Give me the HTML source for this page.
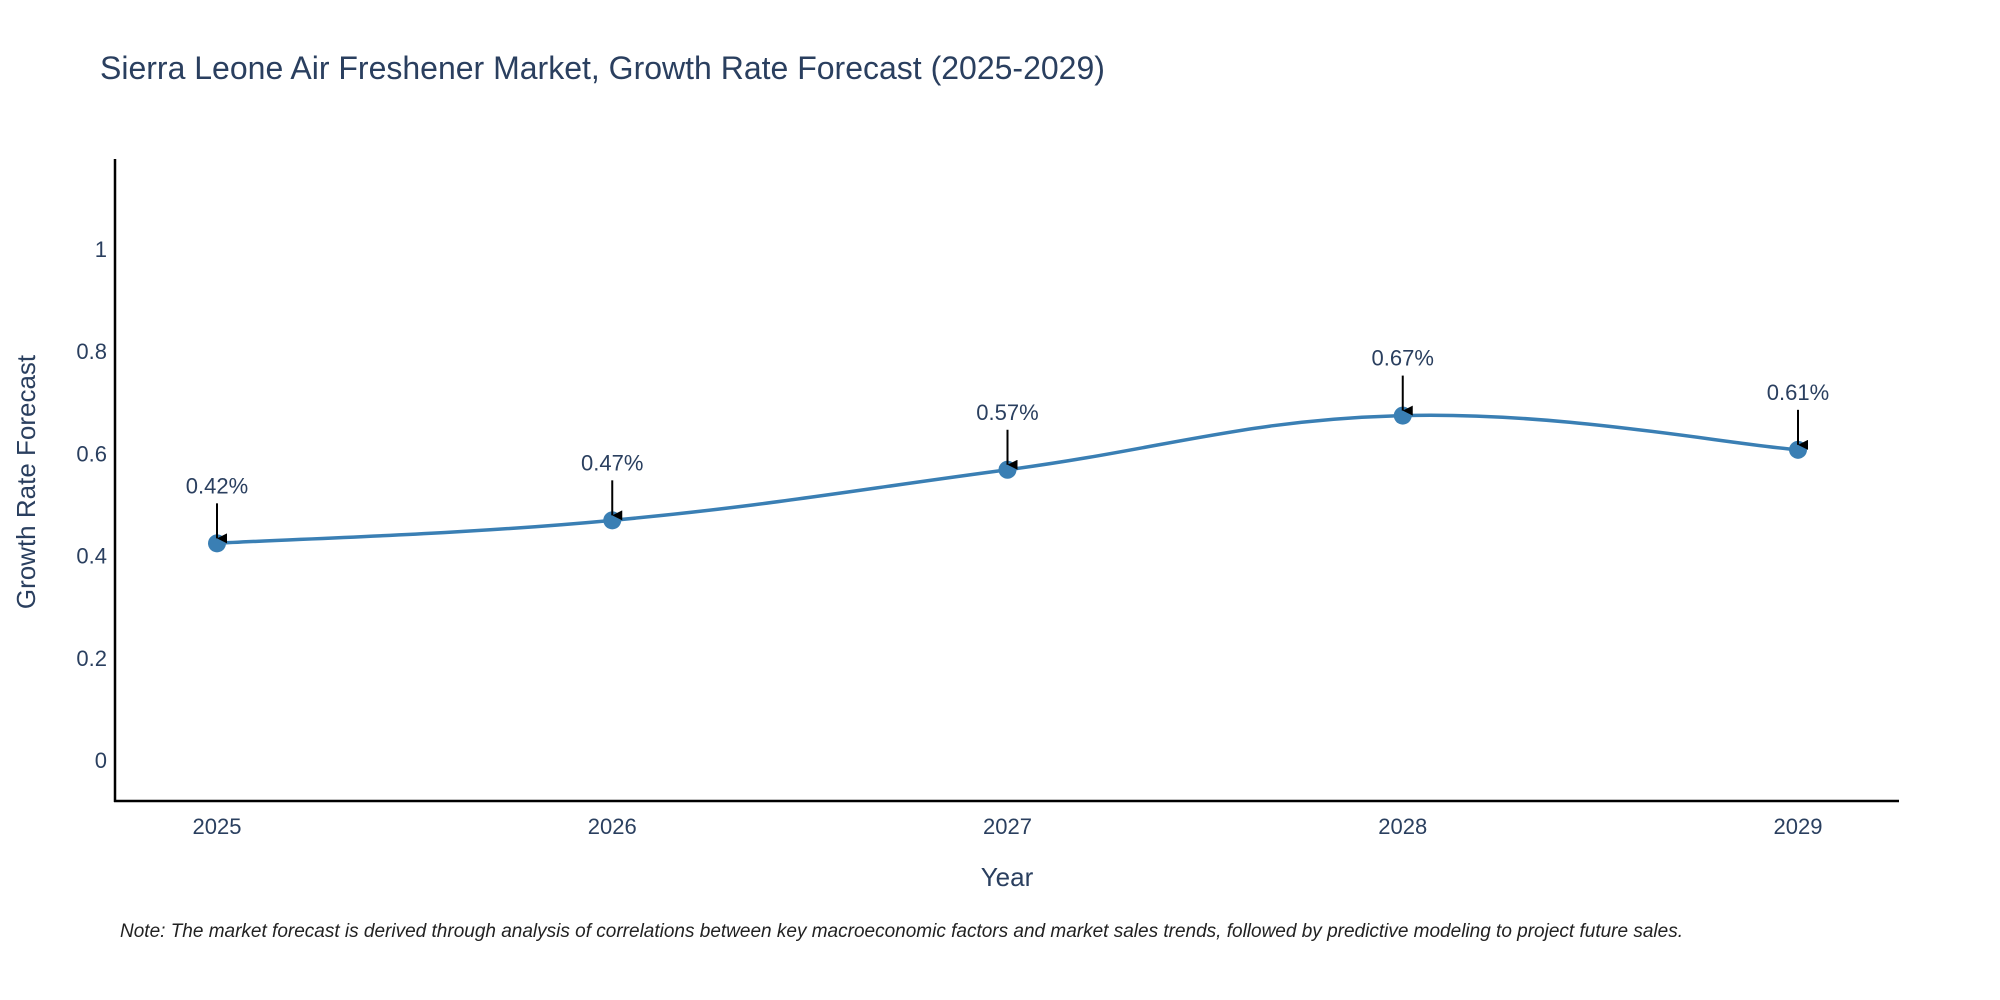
<!DOCTYPE html>
<html><head><meta charset="utf-8"><style>
body{margin:0;background:#fff;}
svg{display:block;font-family:"Liberation Sans",sans-serif;}
</style></head><body>
<svg id="chart" width="2000" height="1000" viewBox="0 0 2000 1000">
<text x="100" y="79" font-size="32" fill="#2a3f5f">Sierra Leone Air Freshener Market, Growth Rate Forecast (2025-2029)</text>
<g id="yticks"></g>
<g id="xticks"></g>
<line x1="115" y1="159" x2="115" y2="802" stroke="#000" stroke-width="2.5"/>
<line x1="114" y1="801" x2="1899" y2="801" stroke="#000" stroke-width="2.5"/>
<path id="line" fill="none" stroke="#3a7fb4" stroke-width="3.5"/>
<g id="points"></g>
<g id="annos"></g>
<text x="1007" y="886" font-size="26" fill="#2a3f5f" text-anchor="middle">Year</text>
<text x="0" y="0" transform="translate(35,482) rotate(-90)" font-size="26" fill="#2a3f5f" text-anchor="middle">Growth Rate Forecast</text>
<text x="120" y="937" font-size="19" font-style="italic" fill="#222">Note: The market forecast is derived through analysis of correlations between key macroeconomic factors and market sales trends, followed by predictive modeling to project future sales.</text>
<defs><marker id="arr" viewBox="0 0 10 10" refX="5" refY="10" markerWidth="5" markerHeight="5" orient="auto-start-reverse"><path d="M0,0 L10,0 L5,10 Z" fill="#000"/></marker></defs>
</svg>
<script>
const years=[2025,2026,2027,2028,2029];
const values=[0.424,0.469,0.568,0.674,0.607];
const labels=["0.42%","0.47%","0.57%","0.67%","0.61%"];
const yTicks=[0,0.2,0.4,0.6,0.8,1];
const ns="http://www.w3.org/2000/svg";
function xs(v){return 217+(v-2025)*(1798-217)/4;}
function ys(v){return 760-v*511;}
function mk(t,a,p){const e=document.createElementNS(ns,t);for(const k in a)e.setAttribute(k,a[k]);p.appendChild(e);return e;}
const yt=document.getElementById('yticks');
yTicks.forEach(v=>{const t=mk('text',{x:107,y:ys(v)+8,'font-size':22,fill:'#2a3f5f','text-anchor':'end'},yt);


t.textContent=String(v);});
const xt=document.getElementById('xticks');
years.forEach(v=>{const t=mk('text',{x:xs(v),y:834,'font-size':22,fill:'#2a3f5f','text-anchor':'middle'},xt);


t.textContent=String(v);});
const P=years.map((y,i)=>[xs(y),ys(values[i])]);
let d='M'+P[0][0]+','+P[0][1];const k=0.2;
for(let i=0;i<P.length-1;i++){const p0=P[Math.max(i-1,0)],p1=P[i],p2=P[i+1],p3=P[Math.min(i+2,P.length-1)];
d+=' C'+(p1[0]+(p2[0]-p0[0])*k)+','+(p1[1]+(p2[1]-p0[1])*k)+' '+(p2[0]-(p3[0]-p1[0])*k)+','+(p2[1]-(p3[1]-p1[1])*k)+' '+p2[0]+','+p2[1];}
document.getElementById('line').setAttribute('d',d);
const pg=document.getElementById('points'),ag=document.getElementById('annos');
P.forEach((p,i)=>{const c=mk('circle',{cx:p[0],cy:p[1],r:9,fill:'#3a7fb4'},pg);


const l=mk('line',{x1:p[0],y1:p[1]-40,x2:p[0],y2:p[1]-5,stroke:'#000','stroke-width':2,'marker-end':'url(#arr)'},ag);


const t=mk('text',{x:p[0],y:p[1]-50,'font-size':22,fill:'#2a3f5f','text-anchor':'middle'},ag);


t.textContent=labels[i];});
</script>
</body></html>
